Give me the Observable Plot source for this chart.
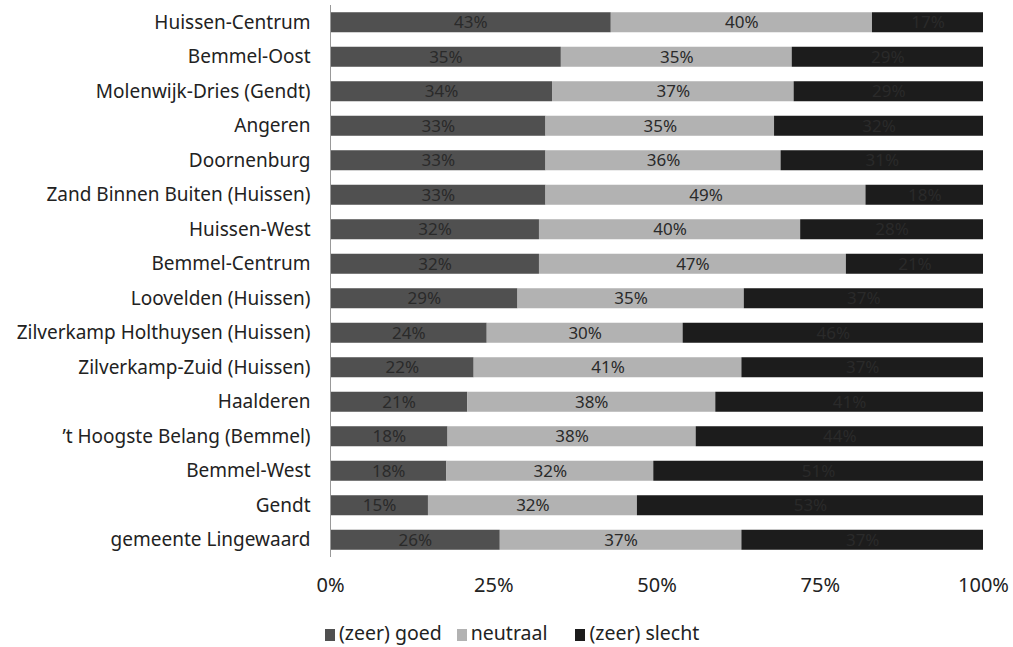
<!DOCTYPE html>
<html><head><meta charset="utf-8">
<script src="https://cdn.jsdelivr.net/npm/d3@7"></script>
<script src="https://cdn.jsdelivr.net/npm/@observablehq/plot@0.6"></script>
<style>
body{margin:0;background:#fff;font-family:"Noto Sans",sans-serif;}
#chart svg{display:block;}
#legend{display:flex;margin-left:325px;margin-top:14px;font-size:19.5px;line-height:27px;color:#222;}
#legend div{margin-right:15px;}
#legend div:nth-child(2){margin-right:28px;}
#legend span.sw{display:inline-block;width:10px;height:12px;margin-right:4px;vertical-align:-1px;}
</style></head><body>
<div id="chart"></div>
<div id="legend"></div>
<script>
const areas = ["Huissen-Centrum","Bemmel-Oost","Molenwijk-Dries (Gendt)","Angeren","Doornenburg","Zand Binnen Buiten (Huissen)","Huissen-West","Bemmel-Centrum","Loovelden (Huissen)","Zilverkamp Holthuysen (Huissen)","Zilverkamp-Zuid (Huissen)","Haalderen","’t Hoogste Belang (Bemmel)","Bemmel-West","Gendt","gemeente Lingewaard"];
const goed     = [43,35,34,33,33,33,32,32,29,24,22,21,18,18,15,26];
const neutraal = [40,35,37,35,36,49,40,47,35,30,41,38,38,32,32,37];
const slecht   = [17,29,29,32,31,18,28,21,37,46,37,41,44,51,53,37];
const categories = ["(zeer) goed","neutraal","(zeer) slecht"];
const colors = ["#505050","#b2b2b2","#1c1c1c"];
const xTicks = [0,0.25,0.5,0.75,1];

const series = [goed, neutraal, slecht];
const data = [];
areas.forEach((a,i)=>categories.forEach((c,j)=>data.push({area:a, cat:c, value:series[j][i]})));

const chart = Plot.plot({
  width: 1013, height: 605,
  marginLeft: 330, marginRight: 30, marginTop: 5, marginBottom: 48,
  style: {fontFamily:'"Noto Sans",sans-serif', fontSize:"15px", color:"#222"},
  x: {domain:[0,1], ticks: xTicks, tickFormat: d=>Math.round(d*100)+"%"},
  y: {domain: areas, paddingInner: 0.42, paddingOuter: 0.21, round: false},
  color: {domain: categories, range: colors},
  marks: [
    Plot.barX(data, Plot.stackX({offset:"normalize", order: categories}, {x:"value", y:"area", z:"cat", fill:"cat"})),
    Plot.text(data, Plot.stackX({offset:"normalize", order: categories}, {x:"value", y:"area", z:"cat", text:d=>d.value+"%", fill:"#2a2a2a", fontSize:17})),
    Plot.ruleX([0], {stroke:"#999"}),
    Plot.axisY({tickSize:0, tickPadding:20, fontSize:19, label:null}),
    Plot.axisX({ticks: xTicks, tickFormat: d=>Math.round(d*100)+"%", tickSize:0, tickPadding:20, fontSize:20, label:null})
  ]
});
document.getElementById("chart").appendChild(chart);
const lg = document.getElementById("legend");
categories.forEach((c,j)=>{
  const d = document.createElement("div");
  d.innerHTML = `<span class="sw" style="background:${colors[j]}"></span>${c}`;
  lg.appendChild(d);
});
</script>
</body></html>
